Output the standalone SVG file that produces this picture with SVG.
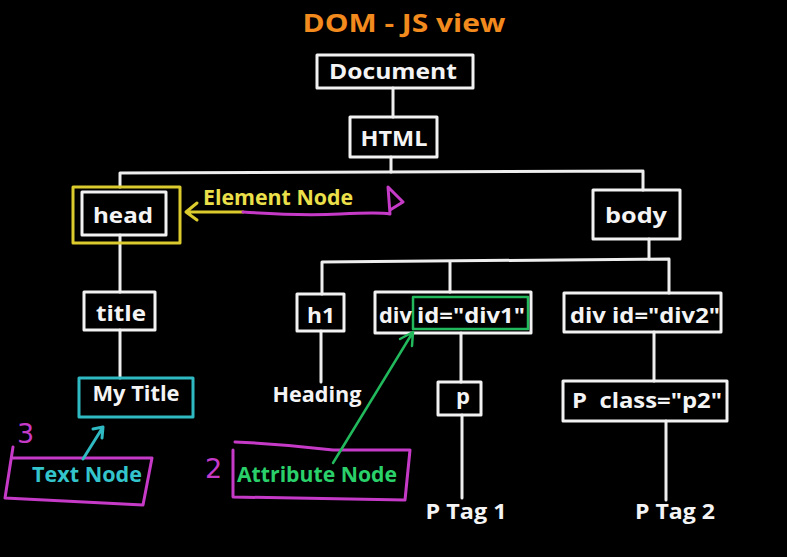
<svg xmlns="http://www.w3.org/2000/svg" width="787" height="557" viewBox="0 0 787 557">
<style>
  .bg { fill: #000; }
  .box { fill: none; stroke: #f2f2f2; stroke-width: 3; stroke-linejoin: round; }
  .wire { fill: none; stroke: #eeeeee; stroke-width: 3; stroke-linecap: round; stroke-linejoin: round; }
  .lbl { font-family: "Open Sans", "DejaVu Sans", sans-serif; font-weight: 700; font-size: 22px; fill: #f4f4f4; }
  .title { font-family: "Open Sans", "DejaVu Sans", sans-serif; font-weight: 700; font-size: 25px; fill: #f28a1e; }
  .yel { fill: none; stroke: #dccb2c; stroke-width: 3; stroke-linecap: round; stroke-linejoin: round; }
  .mag { fill: none; stroke: #c63ac8; stroke-width: 3; stroke-linecap: round; stroke-linejoin: round; }
  .cyan { fill: none; stroke: #2fb9c2; stroke-width: 3; stroke-linecap: round; stroke-linejoin: round; }
  .grn { fill: none; stroke: #22b85c; stroke-width: 2.5; stroke-linecap: round; stroke-linejoin: round; }
  .ann { font-family: "Open Sans", "DejaVu Sans", sans-serif; font-weight: 700; font-size: 21px; }
  .digit { font-family: "DejaVu Sans", sans-serif; font-weight: 400; font-size: 27px; fill: #c63ac8; }
</style>
<rect class="bg" x="0" y="0" width="787" height="557"/>

<text class="title" x="404" y="32" text-anchor="middle" textLength="203" lengthAdjust="spacingAndGlyphs">DOM - JS view</text>

<g id="connectors">
  <path class="wire" d="M393,88 L393,117"/>
  <path class="wire" d="M391,157 L391,172"/>
  <path class="wire" d="M120,187 L120,173 L643,171 L643,190"/>
  <path class="wire" d="M120,235 L120,292"/>
  <path class="wire" d="M120,330 L120,378"/>
  <path class="wire" d="M649,239 L649,259"/>
  <path class="wire" d="M322,294 L322,262 L669,259 L669,293"/>
  <path class="wire" d="M450,262 L450,292"/>
  <path class="wire" d="M321,331 L321,382"/>
  <path class="wire" d="M461,333 L461,382"/>
  <path class="wire" d="M462,415 L462,498"/>
  <path class="wire" d="M654,332 L654,381"/>
  <path class="wire" d="M666,421 L666,500"/>
</g>

<g id="document">
  <rect class="box" x="317" y="55" width="156" height="33"/>
  <text class="lbl" x="393" y="79" text-anchor="middle" textLength="128" lengthAdjust="spacingAndGlyphs">Document</text>
</g>
<g id="html">
  <rect class="box" x="350" y="117" width="87" height="40"/>
  <text class="lbl" x="394" y="146" text-anchor="middle" textLength="67" lengthAdjust="spacingAndGlyphs">HTML</text>
</g>
<g id="head">
  <rect class="yel" x="73" y="187" width="107" height="56"/>
  <rect class="box" x="82" y="192" width="84" height="43"/>
  <text class="lbl" x="123" y="223" text-anchor="middle" textLength="60" lengthAdjust="spacingAndGlyphs">head</text>
</g>
<g id="body">
  <rect class="box" x="593" y="190" width="87" height="49"/>
  <text class="lbl" x="636" y="223" text-anchor="middle" textLength="62" lengthAdjust="spacingAndGlyphs">body</text>
</g>
<g id="title">
  <rect class="box" x="84" y="292" width="71" height="38"/>
  <text class="lbl" x="121" y="321" text-anchor="middle" textLength="50" lengthAdjust="spacingAndGlyphs">title</text>
</g>
<g id="mytitle">
  <rect class="cyan" x="79" y="378" width="114" height="39"/>
  <text class="lbl" x="136" y="401" text-anchor="middle" textLength="87" lengthAdjust="spacingAndGlyphs">My Title</text>
</g>
<g id="h1">
  <rect class="box" x="297" y="294" width="47" height="37"/>
  <text class="lbl" x="321" y="323" text-anchor="middle" textLength="28" lengthAdjust="spacingAndGlyphs">h1</text>
</g>
<g id="heading">
  <text class="lbl" x="317" y="402" text-anchor="middle" textLength="89" lengthAdjust="spacingAndGlyphs">Heading</text>
</g>
<g id="div1">
  <rect class="box" x="375" y="292" width="156" height="41"/>
  <rect class="grn" x="413" y="297" width="115" height="32"/>
  <text class="lbl" x="379" y="323" textLength="33" lengthAdjust="spacingAndGlyphs">div</text>
  <text class="lbl" x="417" y="323" textLength="108" lengthAdjust="spacingAndGlyphs">id="div1"</text>
</g>
<g id="p">
  <rect class="box" x="438" y="382" width="43" height="33"/>
  <text class="lbl" x="463" y="404" text-anchor="middle">p</text>
</g>
<g id="ptag1">
  <text class="lbl" x="466" y="519" text-anchor="middle" textLength="81" lengthAdjust="spacingAndGlyphs">P Tag 1</text>
</g>
<g id="div2">
  <rect class="box" x="564" y="293" width="157" height="39"/>
  <text class="lbl" x="645" y="323" text-anchor="middle" textLength="150" lengthAdjust="spacingAndGlyphs">div id="div2"</text>
</g>
<g id="pclass">
  <rect class="box" x="563" y="381" width="164" height="40"/>
  <text class="lbl" x="572" y="408" xml:space="preserve" textLength="150" lengthAdjust="spacingAndGlyphs">P  class="p2"</text>
</g>
<g id="ptag2">
  <text class="lbl" x="675" y="519" text-anchor="middle" textLength="80" lengthAdjust="spacingAndGlyphs">P Tag 2</text>
</g>

<g id="element-node-note">
  <path class="yel" d="M243,212 L186,212 M197,203 L186,212 L197,220"/>
  <text class="ann" x="203" y="205" fill="#ece04a" textLength="150" lengthAdjust="spacingAndGlyphs">Element Node</text>
  <path class="mag" d="M243,212 Q300,216 340,214 T390,214 L388,187 L403,202 L390,210"/>
</g>

<g id="text-node-note">
  <path class="mag" d="M13,447 L5,498 L143,505 L152,458 L12,458"/>
  <text class="digit" x="17" y="443">3</text>
  <path class="cyan" d="M83,459 L103,427 M93,429 L103,427 L102,438"/>
  <text class="ann" x="32" y="482" fill="#34c4cc" textLength="110" lengthAdjust="spacingAndGlyphs">Text Node</text>
</g>

<g id="attribute-node-note">
  <path class="mag" d="M235,442 Q285,444 333,450 L410,450 L405,500 L233,497 L233,450"/>
  <text class="digit" x="205" y="478">2</text>
  <path class="grn" d="M333,463 L413,332 M400,339 L413,332 L412,346"/>
  <text class="ann" x="237" y="482" fill="#2ad06a" textLength="160" lengthAdjust="spacingAndGlyphs">Attribute Node</text>
</g>
</svg>
